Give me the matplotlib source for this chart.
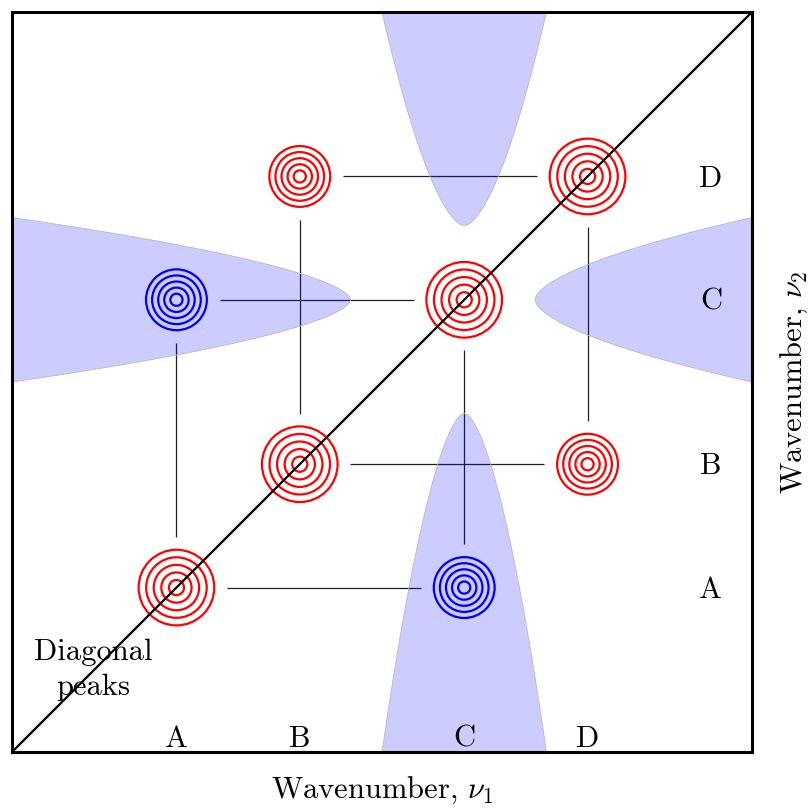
import numpy as np
import matplotlib
matplotlib.use("Agg")
import matplotlib.pyplot as plt
from matplotlib.patches import Circle, Polygon

plt.rcParams['font.family'] = 'serif'
plt.rcParams['font.serif'] = ['cmr10', 'DejaVu Serif']
plt.rcParams['mathtext.fontset'] = 'cm'
plt.rcParams['axes.unicode_minus'] = False

# Band labels and their wavenumber positions (same on both axes)
bands = ['A', 'B', 'C', 'D']
band_pos = [2.0, 3.5, 5.5, 7.0]
frame_max = 9.0

# Cross peaks: (nu1 band, nu2 band, colour)
cross_peaks = [('B', 'D', 'red'), ('A', 'C', 'blue'),
               ('D', 'B', 'red'), ('C', 'A', 'blue')]

# Connector lines between peaks: ((nu1, nu2), (nu1, nu2))
connections = [(('B', 'D'), ('D', 'D')),
               (('A', 'C'), ('C', 'C')),
               (('B', 'B'), ('D', 'B')),
               (('A', 'A'), ('C', 'A')),
               (('A', 'C'), ('A', 'A')),
               (('B', 'D'), ('B', 'B')),
               (('C', 'C'), ('C', 'A')),
               (('D', 'D'), ('D', 'B'))]

# Shaded lobes: (direction it opens toward, apex position)
lobes = [('up', 6.40), ('down', 4.12), ('left', 4.12), ('right', 6.36)]
lobe_center = 5.5
lobe_halfwidth = 1.0
lobe_power = 0.6

pos = dict(zip(bands, band_pos))

fig = plt.figure(figsize=(8.10, 8.09), dpi=100)
ax = fig.add_axes([12 / 810, 57 / 809, 740 / 810, 740 / 809])
ax.set_xlim(0, frame_max)
ax.set_ylim(0, frame_max)
ax.set_xticks([])
ax.set_yticks([])
for sp in ax.spines.values():
    sp.set_linewidth(2.2)
    sp.set_zorder(10)

# ring geometry
diag_step = 0.092
cross_step = 0.074
n_rings = 5
diag_gap = 0.61
cross_gap = 0.53


def is_diag(p):
    return p[0] == p[1]


# connectors
for a, b in connections:
    x0, y0 = pos[a[0]], pos[a[1]]
    x1, y1 = pos[b[0]], pos[b[1]]
    g0 = diag_gap if is_diag(a) else cross_gap
    g1 = diag_gap if is_diag(b) else cross_gap
    L = np.hypot(x1 - x0, y1 - y0)
    ux, uy = (x1 - x0) / L, (y1 - y0) / L
    ax.plot([x0 + ux * g0, x1 - ux * g1], [y0 + uy * g0, y1 - uy * g1],
            color='#222222', lw=0.9, zorder=1, solid_capstyle='butt')

# shaded lobes
for direction, apex in lobes:
    if direction in ('up', 'right'):
        depth = frame_max - apex
    else:
        depth = apex
    d = np.linspace(0, depth, 200)
    w = lobe_halfwidth * (d / depth) ** lobe_power
    sgn = 1 if direction in ('up', 'right') else -1
    along = apex + sgn * d
    across_l = lobe_center - w
    across_r = lobe_center + w
    if direction in ('up', 'down'):
        pts = np.concatenate([np.column_stack([across_l, along]),
                              np.column_stack([across_r, along])[::-1]])
    else:
        pts = np.concatenate([np.column_stack([along, across_l]),
                              np.column_stack([along, across_r])[::-1]])
    ax.add_patch(Polygon(pts, closed=True, facecolor=(0, 0, 1, 0.2),
                         edgecolor=(0.72, 0.72, 0.76, 1.0), lw=0.6, zorder=3))

# diagonal peaks
for b in bands:
    for k in range(1, n_rings + 1):
        ax.add_patch(Circle((pos[b], pos[b]), k * diag_step, fill=False,
                            edgecolor='red', lw=1.6, zorder=4))

# cross peaks
for bx, by, col in cross_peaks:
    for k in range(1, n_rings + 1):
        ax.add_patch(Circle((pos[bx], pos[by]), k * cross_step, fill=False,
                            edgecolor=col, lw=1.6, zorder=4))

# diagonal
ax.plot([0, frame_max], [0, frame_max], color='black', lw=1.6, zorder=5)

fs = 22
for b in bands:
    ax.text(pos[b], 0.16, b, ha='center', va='center', fontsize=fs, zorder=6)
    ax.text(8.5, pos[b] - 0.03, b, ha='center', va='center', fontsize=fs,
            zorder=6)

ax.text(0.99, 1.0, 'Diagonal\npeaks', ha='center', va='center', fontsize=fs,
        linespacing=1.38, zorder=6)

fig.text(382 / 810, 1 - 790 / 809, r'Wavenumber, $\nu_1$', ha='center',
         va='center', fontsize=fs)
fig.text(794 / 810, 1 - 382 / 809, r'Wavenumber, $\nu_2$', ha='center',
         va='center', rotation=90, fontsize=fs)

fig.savefig('out.png', dpi=100)
